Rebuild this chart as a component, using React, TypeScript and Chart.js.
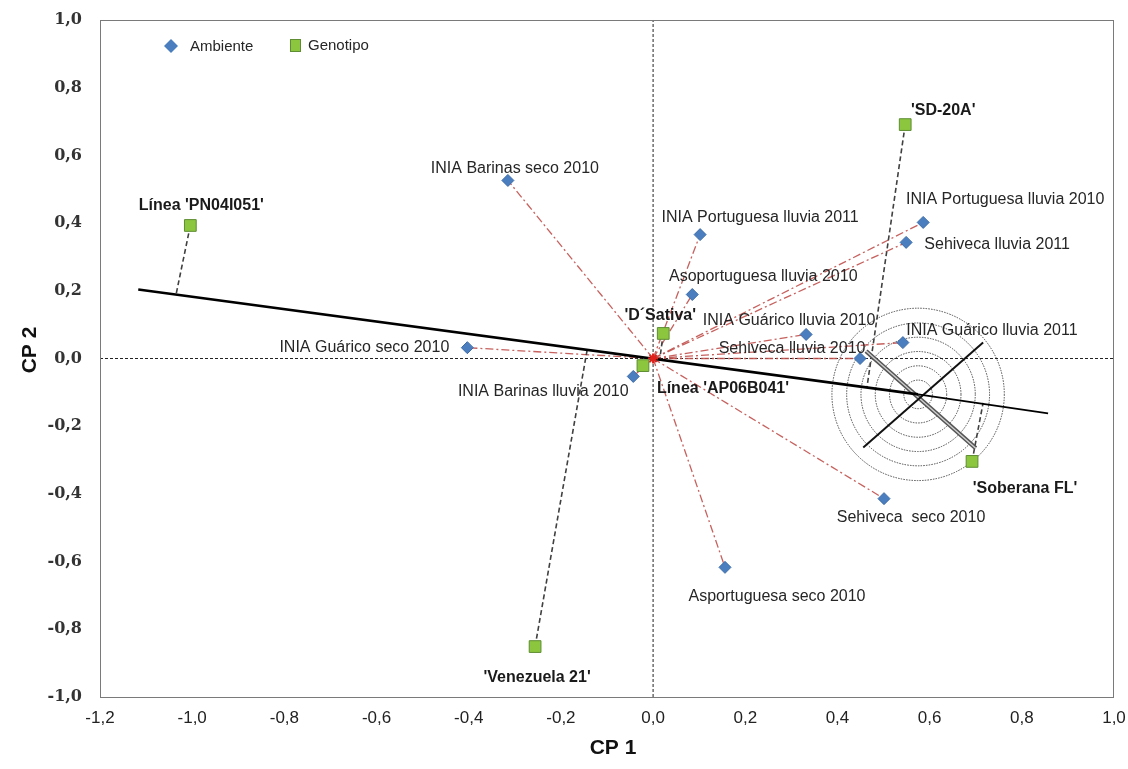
import React, { useEffect, useRef } from "react";
import { Chart, registerables } from "chart.js";
Chart.register(...registerables);

// ---------- data ----------
const envNames = [
  "INIA Barinas seco 2010",
  "INIA Portuguesa lluvia 2011",
  "Asoportuguesa lluvia 2010",
  "INIA Guárico lluvia 2010",
  "Sehiveca lluvia 2010",
  "INIA Guárico lluvia 2011",
  "INIA Portuguesa lluvia 2010",
  "Sehiveca lluvia 2011",
  "INIA Guárico seco 2010",
  "INIA Barinas lluvia 2010",
  "Sehiveca  seco 2010",
  "Asportuguesa seco 2010",
];
const envX = [-0.315, 0.102, 0.085, 0.332, 0.449, 0.542, 0.586, 0.549, -0.403, -0.043, 0.501, 0.156];
const envY = [0.526, 0.366, 0.189, 0.071, 0.0, 0.047, 0.402, 0.343, 0.032, -0.053, -0.414, -0.617];

const genNames = [
  "Línea 'PN04I051'",
  "'SD-20A'",
  "'D´Sativa'",
  "Línea 'AP06B041'",
  "'Soberana FL'",
  "'Venezuela 21'",
];
const genX = [-1.004, 0.547, 0.022, -0.022, 0.692, -0.256];
const genY = [0.393, 0.691, 0.074, -0.021, -0.304, -0.851];
// projection end points of each genotype on the AEC axis
const projX = [-1.035, 0.464, 0.015, -0.015, 0.716, -0.143];
const projY = [0.189, -0.085, 0.003, 0.003, -0.131, 0.026];

// AEC axis: left end, ideal point, right end
const aecX = [-1.117, 0.575, 0.857];
const aecY = [0.204, -0.106, -0.162];
// concentric circles around the ideal point (CP1 units)
const ringRadii = [0.031, 0.062, 0.093, 0.124, 0.155, 0.187];
// lines crossing at the ideal point
const crossAX = [0.456, 0.716];
const crossAY = [-0.263, 0.047];
const crossBX = [0.462, 0.7];
const crossBY = [0.022, -0.265];

const xTicks = [-1.2, -1.0, -0.8, -0.6, -0.4, -0.2, 0.0, 0.2, 0.4, 0.6, 0.8, 1.0];
const yTicks = [-1.0, -0.8, -0.6, -0.4, -0.2, 0.0, 0.2, 0.4, 0.6, 0.8, 1.0];

const legendLabels = ["Ambiente", "Genotipo"];
const xTitle = "CP 1";
const yTitle = "CP 2";

// ---------- layout (label offsets in px, not data) ----------
const envLabelOffsets: [number, number][] = [
  [7, -12], [60, -17], [71, -18], [-17, -14], [-68, -10], [89, -12],
  [82, -23], [91, 2], [-103, 0], [-90, 15], [27, 19], [52, 29],
];
const genLabelOffsets: [number, number][] = [
  [11, -20], [38, -14], [-3, -18], [80, 23], [53, 27], [2, 31],
];

const fmt = (v: number) => (Math.abs(v) < 1e-9 ? "0,0" : v.toFixed(1).replace(".", ","));
const zeroPad = (s: any) => {
  s.paddingLeft = 0;
  s.paddingRight = 0;
  s.paddingTop = 0;
  s.paddingBottom = 0;
};

export default function App() {
  const ref = useRef<HTMLCanvasElement | null>(null);
  useEffect(() => {
    const canvas = ref.current!;
    const seg = (x1: number, y1: number, x2: number, y2: number, extra: any) => ({
      type: "line",
      data: [{ x: x1, y: y1 }, { x: x2, y: y2 }],
      showLine: true,
      pointRadius: 0,
      fill: false,
      ...extra,
    });
    const datasets: any[] = [];
    datasets.push({
      label: legendLabels[0],
      data: envX.map((x, i) => ({ x, y: envY[i] })),
      pointStyle: "rectRot",
      pointRadius: 6,
      backgroundColor: "#4a7ebf",
      borderColor: "#3d6ca8",
      borderWidth: 1,
      order: 0,
    });
    datasets.push({
      label: legendLabels[1],
      data: genX.map((x, i) => ({ x, y: genY[i] })),
      pointStyle: "rect",
      pointRadius: 8.3,
      backgroundColor: "#8cc63e",
      borderColor: "#5e8d33",
      borderWidth: 1,
      order: 0,
    });
    datasets.push({
      label: "origen",
      data: [{ x: 0, y: 0 }],
      pointStyle: "star",
      pointRadius: 5,
      borderColor: "#e0201b",
      backgroundColor: "#e0201b",
      borderWidth: 2,
      order: 1,
    });
    // AEC axis
    datasets.push(seg(aecX[0], aecY[0], aecX[1], aecY[1], { borderColor: "#000", borderWidth: 2.6, order: 3 }));
    datasets.push(seg(aecX[1], aecY[1], aecX[2], aecY[2], { borderColor: "#000", borderWidth: 1.6, order: 3 }));
    // crossing lines
    datasets.push(seg(crossAX[0], crossAY[0], crossAX[1], crossAY[1], { borderColor: "#111", borderWidth: 2, order: 3 }));
    datasets.push(seg(crossBX[0], crossBY[0], crossBX[1], crossBY[1], { borderColor: "#cfcfcf", borderWidth: 1.4, order: 3 }));
    datasets.push(seg(crossBX[0], crossBY[0], crossBX[1], crossBY[1], { borderColor: "#555", borderWidth: 4.4, order: 4 }));
    // projections of genotypes
    genX.forEach((x, i) => {
      datasets.push(seg(x, genY[i], projX[i], projY[i], { borderColor: "#404040", borderWidth: 1.6, borderDash: [5, 3], order: 5 }));
    });
    // environment vectors
    envX.forEach((x, i) => {
      datasets.push(seg(0, 0, x, envY[i], { borderColor: "rgba(192,80,77,0.9)", borderWidth: 1.3, borderDash: [8, 3, 2, 3], order: 6 }));
    });
    // reference axes
    datasets.push(seg(0, yTicks[0], 0, yTicks[yTicks.length - 1], { borderColor: "#222", borderWidth: 1, borderDash: [3, 2], order: 8 }));
    datasets.push(seg(xTicks[0], 0, xTicks[xTicks.length - 1], 0, { borderColor: "#222", borderWidth: 1, borderDash: [3, 2], order: 8 }));

    const ringPlugin = {
      id: "rings",
      beforeDatasetsDraw(chart: any) {
        const { ctx, scales } = chart;
        const xs = scales.x, ys = scales.y;
        const cx = xs.getPixelForValue(aecX[1]);
        const cy = ys.getPixelForValue(aecY[1]);
        ctx.save();
        ctx.strokeStyle = "#4a4a4a";
        ctx.lineWidth = 1;
        ctx.setLineDash([1.5, 1.2]);
        ringRadii.forEach((r) => {
          const pr = xs.getPixelForValue(aecX[1] + r) - cx;
          ctx.beginPath();
          ctx.arc(cx, cy, pr, 0, Math.PI * 2);
          ctx.stroke();
        });
        ctx.restore();
      },
    };

    const textPlugin = {
      id: "texts",
      afterDatasetsDraw(chart: any) {
        const { ctx, scales, chartArea } = chart;
        const xs = scales.x, ys = scales.y;
        ctx.save();
        ctx.textAlign = "center";
        ctx.textBaseline = "middle";
        ctx.fillStyle = "#262626";
        ctx.font = '16px "Liberation Sans", Arial, sans-serif';
        envNames.forEach((n, i) => {
          const px = xs.getPixelForValue(envX[i]) + envLabelOffsets[i][0];
          const py = ys.getPixelForValue(envY[i]) + envLabelOffsets[i][1];
          ctx.fillText(n, px, py);
        });
        ctx.fillStyle = "#1a1a1a";
        ctx.font = 'bold 16px "Liberation Sans", Arial, sans-serif';
        genNames.forEach((n, i) => {
          const px = xs.getPixelForValue(genX[i]) + genLabelOffsets[i][0];
          const py = ys.getPixelForValue(genY[i]) + genLabelOffsets[i][1];
          ctx.fillText(n, px, py);
        });
        // border
        ctx.strokeStyle = "#7a7a7a";
        ctx.lineWidth = 1;
        ctx.setLineDash([]);
        ctx.strokeRect(chartArea.left + 0.5, chartArea.top + 0.5, chartArea.right - chartArea.left - 1, chartArea.bottom - chartArea.top);
        // legend
        const lx = chartArea.left + 71, ly = chartArea.top + 26;
        ctx.fillStyle = "#4a7ebf";
        ctx.beginPath();
        ctx.moveTo(lx - 7, ly);
        ctx.lineTo(lx, ly - 7);
        ctx.lineTo(lx + 7, ly);
        ctx.lineTo(lx, ly + 7);
        ctx.closePath();
        ctx.fill();
        ctx.fillStyle = "#262626";
        ctx.textAlign = "left";
        ctx.font = '15px "Liberation Sans", Arial, sans-serif';
        ctx.fillText(legendLabels[0], lx + 19, ly + 1);
        const gx = lx + 124;
        ctx.fillStyle = "#8cc63e";
        ctx.strokeStyle = "#5e8d33";
        ctx.fillRect(gx - 5, ly - 7, 10, 12);
        ctx.strokeRect(gx - 5 + 0.5, ly - 7 + 0.5, 10, 12);
        ctx.fillStyle = "#262626";
        ctx.fillText(legendLabels[1], gx + 13, ly);
        // axis titles
        ctx.fillStyle = "#111";
        ctx.textAlign = "center";
        ctx.font = 'bold 21px "Liberation Sans", Arial, sans-serif';
        ctx.fillText(xTitle, (chartArea.left + chartArea.right) / 2 + 6, 748);
        ctx.translate(30, 350);
        ctx.rotate(-Math.PI / 2);
        ctx.fillText(yTitle, 0, 0);
        ctx.restore();
      },
    };

    const chart = new Chart(canvas, {
      type: "scatter",
      data: { datasets },
      options: {
        animation: false,
        responsive: false,
        devicePixelRatio: 1,
        layout: { padding: { left: 0, right: 14, top: 20, bottom: 0 } },
        plugins: { legend: { display: false }, tooltip: { enabled: false } },
        scales: {
          x: {
            type: "linear",
            min: xTicks[0],
            max: xTicks[xTicks.length - 1],
            grid: { display: false, drawTicks: false },
            border: { display: false },
            afterBuildTicks: (s: any) => { s.ticks = xTicks.map((v) => ({ value: v })); },
            afterFit: (s: any) => { s.height = 72; zeroPad(s); },
            ticks: {
              callback: (v: any) => fmt(Number(v)),
              padding: 11,
              color: "#222",
              font: { family: '"Liberation Sans Narrow", "Liberation Sans", Arial', size: 17 },
              maxRotation: 0,
              autoSkip: false,
            },
          },
          y: {
            type: "linear",
            min: yTicks[0],
            max: yTicks[yTicks.length - 1],
            grid: { display: false, drawTicks: false },
            border: { display: false },
            afterBuildTicks: (s: any) => { s.ticks = yTicks.map((v) => ({ value: v })); },
            afterFit: (s: any) => { s.width = 100; zeroPad(s); },
            ticks: {
              callback: (v: any) => fmt(Number(v)),
              padding: 18,
              color: "#333",
              font: { family: '"DejaVu Serif", "Liberation Serif", serif', size: 16, weight: "bold" },
              autoSkip: false,
            },
          },
        },
      },
      plugins: [ringPlugin, textPlugin],
    } as any);
    return () => chart.destroy();
  }, []);
  return (
    <div style={{ position: "absolute", left: 0, top: 0, width: 1128, height: 769, background: "#fff" }}>
      <canvas ref={ref} width={1128} height={769} style={{ width: 1128, height: 769, display: "block" }} />
    </div>
  );
}
